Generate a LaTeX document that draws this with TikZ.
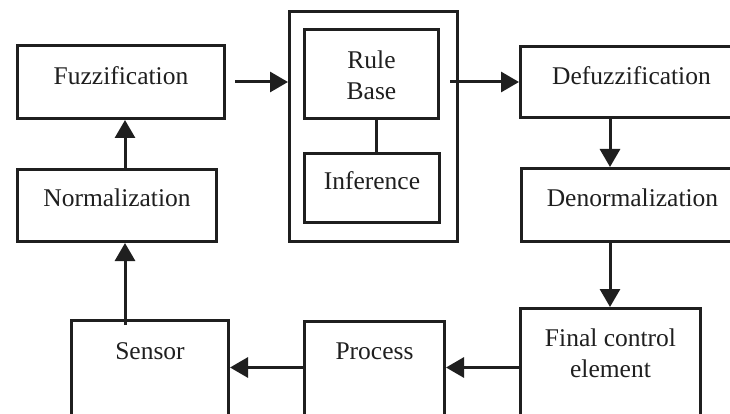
\documentclass[tikz,border=0pt]{standalone}
\usepackage{fontspec}
\setmainfont{Liberation Serif}
\usetikzlibrary{arrows.meta}
\definecolor{ink}{rgb}{0.12,0.12,0.12}
\begin{document}
\begin{tikzpicture}[x=1pt,y=-1pt,
  box/.style={draw=ink, line width=3pt, inner sep=0pt, anchor=north west,
    font=\fontsize{25.5}{31}\selectfont, text=ink},
  arr/.style={draw=ink, line width=3pt, -{Triangle[length=18pt,width=20pt]}},
  link/.style={draw=ink, line width=3pt}]
\useasboundingbox (0,0) rectangle (730,414);
\clip (0,0) rectangle (730,414);
\fill[white] (0,0) rectangle (730,414);
% boxes
\node[box, minimum width=207pt, text height=39pt, text depth=34pt] (fuzz) at (16,44) {Fuzzification};
\node[box, minimum width=199pt, text height=37pt, text depth=35pt] (norm) at (16,168) {Normalization};
\node[box, minimum width=168pt, minimum height=230pt] (outer) at (288,10) {};
\node[box, minimum width=134pt, text height=39pt, text depth=50pt] (rule) at (303,28) {\begin{tabular}[t]{@{}c@{}}Rule\\Base\end{tabular}};
\node[box, minimum width=135pt, text height=36pt, text depth=33pt] (inf) at (303,152) {Inference};
\node[box, minimum width=222pt, text height=38pt, text depth=33pt] (defuzz) at (519,45) {Defuzzification};
\node[box, minimum width=222pt, text height=38pt, text depth=35pt] (denorm) at (520,167) {Denormalization};
\node[box, minimum width=180pt, text height=38pt, text depth=80pt] (final) at (519,307) {\begin{tabular}[t]{@{}c@{}}Final control\\element\end{tabular}};
\node[box, minimum width=140pt, text height=38pt, text depth=67pt] (process) at (303,320) {Process};
\node[box, minimum width=157pt, text height=39pt, text depth=67pt] (sensor) at (70,319) {Sensor};
% helper coordinates
\coordinate (lx) at (125,0);
\coordinate (rx) at (610,0);
\coordinate (ix) at (376,0);
% connectors
\draw[arr, shorten <=-6pt] (sensor.north -| lx) -- (norm.south -| lx);
\draw[arr] (norm.north -| lx) -- (fuzz.south -| lx);
\draw[arr, shorten <=9pt] (fuzz.east) -- (outer.west |- fuzz.east);
\draw[arr, shorten <=-9pt] (outer.east |- fuzz.east) -- (defuzz.west |- fuzz.east);
\draw[link] (rule.south -| ix) -- (inf.north -| ix);
\draw[arr] (defuzz.south -| rx) -- (denorm.north -| rx);
\draw[arr] (denorm.south -| rx) -- (final.north -| rx);
\draw[arr] (final.west) -- (process.east |- final.west);
\draw[arr] (process.west |- final.west) -- (sensor.east |- final.west);
\end{tikzpicture}
\end{document}
